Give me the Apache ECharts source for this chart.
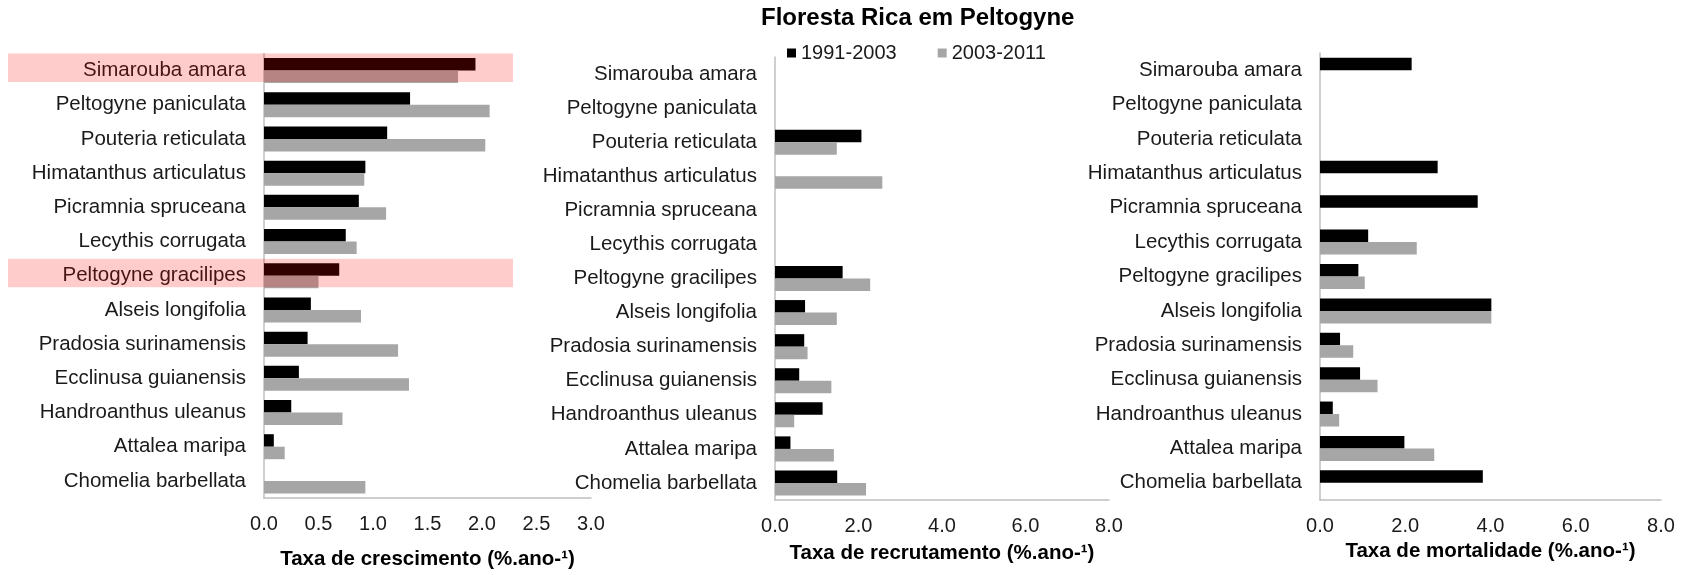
<!DOCTYPE html>
<html>
<head>
<meta charset="utf-8">
<script src="https://cdn.jsdelivr.net/npm/echarts@6/dist/echarts.min.js"></script>
<style>
html,body{margin:0;padding:0;background:#fff;}
#chart{width:1693px;height:575px;}
</style>
</head>
<body>
<div id="chart"></div>
<script>
const species = ['Simarouba amara','Peltogyne paniculata','Pouteria reticulata','Himatanthus articulatus','Picramnia spruceana','Lecythis corrugata','Peltogyne gracilipes','Alseis longifolia','Pradosia surinamensis','Ecclinusa guianensis','Handroanthus uleanus','Attalea maripa','Chomelia barbellata'];
const seriesNames = ['1991-2003','2003-2011'];

const growth1991 = [1.94, 1.34, 1.13, 0.93, 0.87, 0.75, 0.69, 0.43, 0.40, 0.32, 0.25, 0.09, null];
const growth2003 = [1.78, 2.07, 2.03, 0.92, 1.12, 0.85, 0.50, 0.89, 1.23, 1.33, 0.72, 0.19, 0.93];

const recruit1991 = [null, null, 2.07, null, null, null, 1.62, 0.72, 0.70, 0.58, 1.14, 0.37, 1.49];
const recruit2003 = [null, null, 1.48, 2.57, null, null, 2.28, 1.48, 0.78, 1.35, 0.46, 1.41, 2.18];

const mort1991 = [2.15, null, null, 2.76, 3.70, 1.13, 0.90, 4.02, 0.47, 0.94, 0.30, 1.98, 3.82];
const mort2003 = [null, null, null, null, null, 2.27, 1.05, 4.02, 0.78, 1.35, 0.45, 2.68, null];

const axisTitles = ['Taxa de crescimento (%.ano-\u00b9)','Taxa de recrutamento (%.ano-\u00b9)','Taxa de mortalidade (%.ano-\u00b9)'];
const xMax = [3, 8, 8];
const xInterval = [0.5, 2, 2];
const highlighted = ['Simarouba amara','Peltogyne gracilipes'];

const FONT = '"Liberation Sans", Arial, Helvetica, sans-serif';
const BLACK = '#000000', GREY = '#a6a6a6', AXIS = '#bfbfbf';

const chart = echarts.init(document.getElementById('chart'), null, {renderer:'canvas'});

const grids = [
  {left:264, right:1102, top:53.5, bottom:75},
  {left:775, right:584, top:57, bottom:75},
  {left:1320, right:32, top:53, bottom:75}
];
const nameGaps = [51, 43, 41];

const xAxes = grids.map((g,i)=>({
  type:'value', gridIndex:i, min:0, max:xMax[i], interval:xInterval[i],
  axisLine:{show:true, lineStyle:{color:AXIS, width:1.5}},
  axisTick:{show:false}, splitLine:{show:false},
  axisLabel:{fontSize:20, color:'#1a1a1a', fontFamily:FONT, margin:16, formatter:v=>v.toFixed(1)},
  name:axisTitles[i], nameLocation:'middle', nameGap:nameGaps[i],
  nameTextStyle:{fontSize:20.5, fontWeight:'bold', color:'#000', fontFamily:FONT}
}));
const yAxes = grids.map((g,i)=>({
  type:'category', gridIndex:i, data:species, inverse:true,
  axisLine:{show:true, lineStyle:{color:AXIS, width:1.5}},
  axisTick:{show:false}, splitLine:{show:false},
  axisLabel:{fontSize:20.5, color:'#1a1a1a', fontFamily:FONT, margin:18}
}));

const data1 = [growth1991, recruit1991, mort1991];
const data2 = [growth2003, recruit2003, mort2003];
const series = [];
for (let i=0;i<3;i++){
  series.push({name:seriesNames[0], type:'bar', xAxisIndex:i, yAxisIndex:i, data:data1[i], barWidth:12.5, barGap:'0%', itemStyle:{color:BLACK}, silent:true});
  series.push({name:seriesNames[1], type:'bar', xAxisIndex:i, yAxisIndex:i, data:data2[i], barWidth:12.5, barGap:'0%', itemStyle:{color:GREY}, silent:true});
}

chart.setOption({
  animation:false,
  backgroundColor:'#ffffff',
  textStyle:{fontFamily:FONT},
  title:{text:'Floresta Rica em Peltogyne', left:761, top:6, padding:0,
    textStyle:{fontSize:24, fontWeight:'bold', color:'#000', fontFamily:FONT}},
  legend:{data:seriesNames, left:782, top:38, icon:'rect', itemWidth:9, itemHeight:9, itemGap:41,
    textStyle:{fontSize:20, color:'#1a1a1a', fontFamily:FONT}},
  grid:grids, xAxis:xAxes, yAxis:yAxes, series:series
});

// highlight bands (annotation) positioned from the category axis of the first panel
const rects = highlighted.map(name=>{
  const cy = chart.convertToPixel({yAxisIndex:0}, name);
  return {type:'rect', shape:{x:8, y:cy-17, width:505, height:28.5}, style:{fill:'rgba(255,0,0,0.2)'}, z:100, silent:true};
});
chart.setOption({graphic:rects});
</script>
</body>
</html>
